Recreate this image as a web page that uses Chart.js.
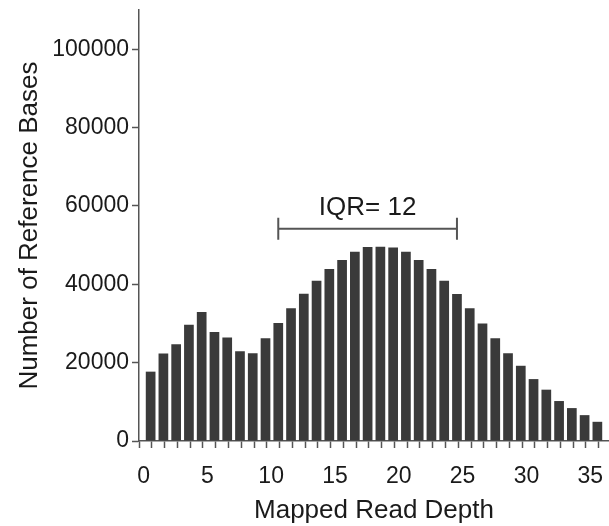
<!DOCTYPE html>
<html>
<head>
<meta charset="utf-8">
<script src="https://cdn.jsdelivr.net/npm/chart.js@4.4.1/dist/chart.umd.min.js"></script>
<style>
  html, body { margin: 0; padding: 0; background: #fff; }
  #wrap { width: 609px; height: 526px; }
</style>
</head>
<body>
<div id="wrap"><canvas id="depthChart" width="609" height="526"></canvas></div>
<script>
// Dữ liệu: số base tham chiếu theo độ sâu đọc (0..35)
const depths = [0, 1, 2, 3, 4, 5, 6, 7, 8, 9, 10, 11, 12, 13, 14, 15, 16, 17,
    18, 19, 20, 21, 22, 23, 24, 25, 26, 27, 28, 29, 30, 31, 32, 33, 34, 35];
const baseCounts = [17700, 22300, 24700, 29700, 32900, 27800, 26400, 22900, 22400,
    26200, 30100, 33900, 37600, 40900, 43900, 46200, 48300, 49500, 49600, 49400,
    48300, 46200, 43900, 40900, 37500, 33900, 30000, 26200, 22400, 19200, 15800,
    13100, 10200, 8400, 6600, 4900];
const yTicks = [0, 20000, 40000, 60000, 80000, 100000];
const xLabelTicks = [0, 5, 10, 15, 20, 25, 30, 35];

// Chú thích IQR
const iqrLabel = 'IQR= 12';
const iqrRange = [10, 24];
const iqrLevel = 54200;

const barOffset = 0.4;   // cột nằm bên phải vạch chia
const fontFamily = '"Liberation Sans", Arial, Helvetica, sans-serif';

document.addEventListener('DOMContentLoaded', function() {
    const ctx = document.getElementById('depthChart').getContext('2d');

    // Vẽ đoạn IQR + chữ
    const iqrPlugin = {
        id: 'iqrBracket',
        afterDatasetsDraw(chart) {
            const c = chart.ctx;
            const x = chart.scales.x, y = chart.scales.y;
            const x1 = x.getPixelForValue(iqrRange[0] + barOffset);
            const x2 = x.getPixelForValue(iqrRange[1] + barOffset);
            const yy = y.getPixelForValue(iqrLevel);
            c.save();
            c.strokeStyle = '#555';
            c.lineWidth = 2;
            c.beginPath();
            c.moveTo(x1, yy); c.lineTo(x2, yy);
            c.moveTo(x1, yy - 11); c.lineTo(x1, yy + 11);
            c.moveTo(x2, yy - 11); c.lineTo(x2, yy + 11);
            c.stroke();
            c.fillStyle = '#1a1a1a';
            c.font = '26px ' + fontFamily;
            c.textAlign = 'center';
            c.textBaseline = 'alphabetic';
            c.fillText(iqrLabel, (x1 + x2) / 2, yy - 14);
            c.restore();
        }
    };

    new Chart(ctx, {
        type: 'bar',
        data: {
            datasets: [{
                data: depths.map((d, i) => ({ x: d + barOffset, y: baseCounts[i] })),
                backgroundColor: '#3a3a3a',
                borderWidth: 0,
                barPercentage: 0.76,
                categoryPercentage: 1
            }]
        },
        options: {
            responsive: false,
            animation: false,
            layout: { padding: { top: 10, right: 0, left: 0, bottom: 0 } },
            plugins: {
                legend: { display: false },
                tooltip: { enabled: false }
            },
            scales: {
                x: {
                    type: 'linear',
                    min: 0,
                    max: 35.8,
                    grid: { drawOnChartArea: false, tickLength: 7, tickColor: '#555', tickWidth: 1.5 },
                    border: { color: '#555', width: 1.5 },
                    ticks: {
                        autoSkip: false,
                        maxRotation: 0,
                        color: '#1a1a1a',
                        padding: 15,
                        labelOffset: -2,
                        font: { size: 23, family: fontFamily },
                        callback: v => xLabelTicks.includes(v) ? String(v) : ''
                    },
                    title: {
                        display: true,
                        text: 'Mapped Read Depth',
                        color: '#1a1a1a',
                        font: { size: 26, family: fontFamily },
                        padding: { top: 0, bottom: 0 }
                    },
                    afterBuildTicks: s => { s.ticks = depths.map(v => ({ value: v })); },
                    afterFit: s => { s.height = 85; s.paddingLeft = 0; s.paddingRight = 0; }
                },
                y: {
                    min: 0,
                    max: 110000,
                    grid: { drawOnChartArea: false, tickLength: 7, tickColor: '#555', tickWidth: 1.5 },
                    border: { color: '#555', width: 1.5 },
                    ticks: {
                        color: '#1a1a1a',
                        padding: 3,
                        font: { size: 23, family: fontFamily },
                        callback: v => String(v)
                    },
                    title: {
                        display: true,
                        text: 'Number of Reference Bases',
                        color: '#1a1a1a',
                        font: { size: 26, family: fontFamily },
                        padding: { top: 14, bottom: 0 }
                    },
                    afterBuildTicks: s => { s.ticks = yTicks.map(v => ({ value: v })); },
                    afterFit: s => { s.width = 139; s.paddingTop = 0; s.paddingBottom = 0; }
                }
            }
        },
        plugins: [iqrPlugin]
    });
});
</script>
</body>
</html>
